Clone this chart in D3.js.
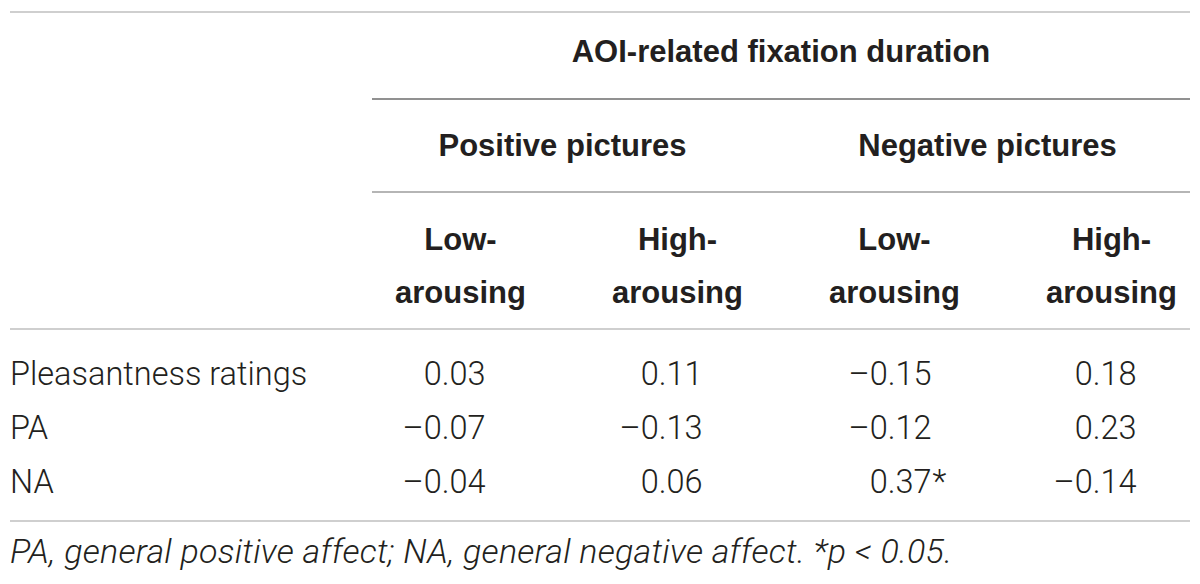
<!DOCTYPE html>
<html>
<head>
<meta charset="utf-8">
<script src="https://cdn.jsdelivr.net/npm/d3@7"></script>
<style>
  html, body { margin: 0; padding: 0; background: #fff; }
  svg { display: block; }
  .bold { font-family: "Liberation Sans", Arial, sans-serif; font-weight: bold; fill: #231f20; }
  .light { font-family: "Roboto", "Liberation Sans", sans-serif; font-weight: 300; fill: #231f20; }
</style>
</head>
<body>
<div id="canvas"></div>
<script>
"use strict";

/* Table content */
let spanTitle = "AOI-related fixation duration";
let groupLabels = ["Positive pictures", "Negative pictures"];
let colTop = ["Low-", "High-", "Low-", "High-"];
let colBottom = ["arousing", "arousing", "arousing", "arousing"];
let rowLabels = ["Pleasantness ratings", "PA", "NA"];

// correlations, one array per row
let pleasantness = [0.03, 0.11, -0.15, 0.18];
let pa = [-0.07, -0.13, -0.12, 0.23];
let na = [-0.04, 0.06, 0.37, -0.14];
let rowValues = [pleasantness, pa, na];

// significance markers, same layout as values
let sigMarks = [
  ["", "", "", ""],
  ["", "", "", ""],
  ["", "", "*", ""]
];

let footnote = "PA, general positive affect; NA, general negative affect. *p < 0.05.";

/* Drawing config */
let svgWidth = 1200;
let svgHeight = 584;
let leftX = 10;
let rightX = 1190;
let spanX = 372;
let headSize = 31;
let bodySize = 32.5;
let noteSize = 34;

let svg = d3.select("#canvas")
  .append("svg")
  .attr("width", svgWidth)
  .attr("height", svgHeight);

/* Scales */
let xCol = d3.scaleBand()
  .domain(d3.range(colTop.length))
  .range([352, 1220]);

let xGroup = d3.scaleBand()
  .domain(groupLabels)
  .range([350, 1200]);

let yRow = d3.scaleBand()
  .domain(rowLabels)
  .range([346, 508]);

// the journal prints an en dash for negatives
let fmt = d3.formatLocale({
  decimal: ".",
  thousands: ",",
  grouping: [3],
  currency: ["", ""],
  minus: "\u2013"
}).format(".2f");

/* Rules */
function rule(x1, x2, y, color, width) {
  svg.append("line")
    .attr("x1", x1)
    .attr("x2", x2)
    .attr("y1", y)
    .attr("y2", y)
    .attr("stroke", color)
    .attr("stroke-width", width);
}

rule(leftX, rightX, 12, "#cfcfcf", 2);
rule(spanX, rightX, 99, "#6d6d6d", 1.5);
rule(spanX, rightX, 192, "#b5b5b5", 2);
rule(leftX, rightX, 329, "#cfcfcf", 2);
rule(leftX, rightX, 521, "#cfcfcf", 2);

/* Header */
svg.append("text")
  .attr("class", "bold")
  .attr("x", (spanX + rightX) / 2)
  .attr("y", 62)
  .attr("text-anchor", "middle")
  .attr("font-size", headSize)
  .text(spanTitle);

svg.selectAll("text.group")
  .data(groupLabels)
  .enter()
  .append("text")
  .attr("class", "bold group")
  .attr("x", function (d) { return xGroup(d) + xGroup.bandwidth() / 2; })
  .attr("y", 156)
  .attr("text-anchor", "middle")
  .attr("font-size", headSize)
  .text(function (d) { return d; });

for (let i = 0; i < colTop.length; i = i + 1) {
  let cx = xCol(i) + xCol.bandwidth() / 2;
  svg.append("text")
    .attr("class", "bold")
    .attr("x", cx)
    .attr("y", 250)
    .attr("text-anchor", "middle")
    .attr("font-size", headSize)
    .text(colTop[i]);
  svg.append("text")
    .attr("class", "bold")
    .attr("x", cx)
    .attr("y", 303)
    .attr("text-anchor", "middle")
    .attr("font-size", headSize)
    .text(colBottom[i]);
}

/* Body rows */
for (let r = 0; r < rowLabels.length; r = r + 1) {
  let cy = yRow(rowLabels[r]) + yRow.bandwidth() / 2;

  svg.append("text")
    .attr("class", "light")
    .attr("x", leftX)
    .attr("y", cy)
    .attr("dy", "0.36em")
    .attr("font-size", bodySize)
    .text(rowLabels[r]);

  for (let c = 0; c < rowValues[r].length; c = c + 1) {
    // a column holding markers gets a bit of room on the right
    let hasMark = sigMarks.some(function (row) { return row[c] !== ""; });
    let endX = xCol(c) + xCol.bandwidth() / 2 + 25 + (hasMark ? 12 : 0);

    svg.append("text")
      .attr("class", "light")
      .attr("x", endX)
      .attr("y", cy)
      .attr("dy", "0.36em")
      .attr("text-anchor", "end")
      .attr("font-size", bodySize)
      .text(fmt(rowValues[r][c]));

    if (sigMarks[r][c] !== "") {
      svg.append("text")
        .attr("class", "light")
        .attr("x", endX + 1)
        .attr("y", cy)
        .attr("dy", "0.36em")
        .attr("font-size", bodySize)
        .text(sigMarks[r][c]);
    }
  }
}

/* Footnote */
svg.append("text")
  .attr("class", "light")
  .attr("x", leftX)
  .attr("y", 563)
  .attr("font-style", "italic")
  .attr("font-size", noteSize)
  .attr("letter-spacing", 0.25)
  .text(footnote);
</script>
</body>
</html>
